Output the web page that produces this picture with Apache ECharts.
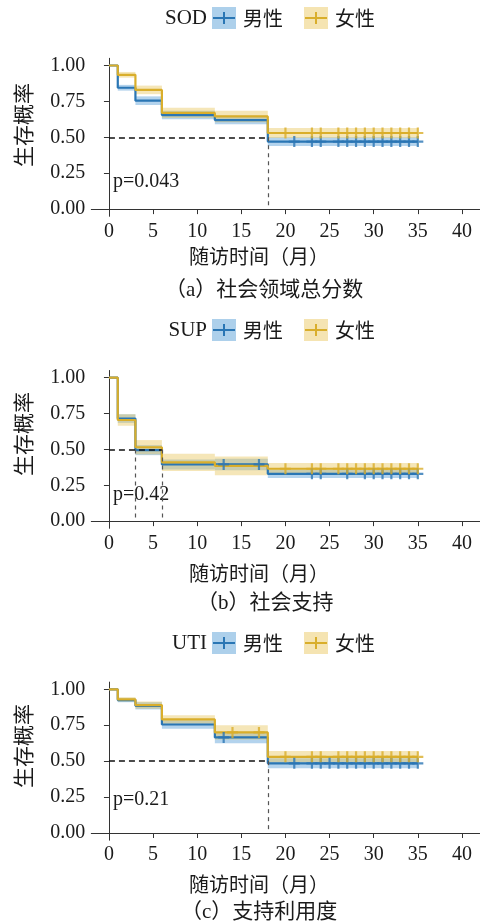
<!DOCTYPE html>
<html><head><meta charset="utf-8">
<script src="https://cdn.jsdelivr.net/npm/echarts@6/dist/echarts.min.js"></script>
<style>html,body{margin:0;padding:0;background:#fff;}#c{width:481px;height:922px;}</style>
</head><body><div id="c"></div>
<script>
// ---- shared ticks ----
const xTicks = [0, 5, 10, 15, 20, 25, 30, 35, 40];
const yTicks = [0, 0.25, 0.5, 0.75, 1];
const groupNames = ['男性', '女性'];

// ---- panel (a) SOD ----
const aTimes = [0, 1, 3, 6, 12, 18, 35];
const aMale = [1, 0.845, 0.755, 0.655, 0.62, 0.47];
const aMaleLo = [1, 0.825, 0.725, 0.625, 0.59, 0.44];
const aMaleHi = [1, 0.865, 0.785, 0.685, 0.65, 0.50];
const aFemale = [1, 0.935, 0.83, 0.67, 0.645, 0.53];
const aFemaleLo = [1, 0.915, 0.80, 0.635, 0.605, 0.495];
const aFemaleHi = [1, 0.955, 0.86, 0.705, 0.685, 0.565];
const aMaleCensor = [21, 23, 24, 26, 27, 28, 29, 30, 31, 32, 33, 34, 35];
const aFemaleCensor = [20, 23, 24, 26, 27, 28, 29, 30, 31, 32, 33, 34, 35];
const aMedians = [18];
const aP = 'p=0.043';
const aCaption = '（a）社会领域总分数';
const aName = 'SOD';

// ---- panel (b) SUP ----
const bTimes = [0, 1, 3, 6, 12, 18, 35];
const bMale = [1, 0.715, 0.495, 0.395, 0.395, 0.33];
const bMaleLo = [1, 0.685, 0.46, 0.36, 0.355, 0.30];
const bMaleHi = [1, 0.745, 0.53, 0.43, 0.435, 0.36];
const bFemale = [1, 0.705, 0.515, 0.41, 0.385, 0.365];
const bFemaleLo = [1, 0.665, 0.465, 0.35, 0.32, 0.325];
const bFemaleHi = [1, 0.745, 0.565, 0.47, 0.45, 0.405];
const bMaleCensor = [13, 17, 23, 24, 27, 29, 30, 31, 32, 33, 34, 35];
const bFemaleCensor = [20, 23, 24, 26, 27, 28, 29, 30, 31, 32, 33, 34, 35];
const bMedians = [3, 6];
const bP = 'p=0.42';
const bCaption = '（b）社会支持';
const bName = 'SUP';

// ---- panel (c) UTI ----
const cTimes = [0, 1, 3, 6, 12, 18, 35];
const cMale = [1, 0.925, 0.885, 0.755, 0.665, 0.485];
const cMaleLo = [1, 0.91, 0.86, 0.725, 0.625, 0.45];
const cMaleHi = [1, 0.94, 0.91, 0.785, 0.705, 0.52];
const cFemale = [1, 0.93, 0.89, 0.79, 0.70, 0.53];
const cFemaleLo = [1, 0.915, 0.865, 0.76, 0.65, 0.49];
const cFemaleHi = [1, 0.945, 0.915, 0.82, 0.75, 0.57];
const cMaleCensor = [13, 21, 23, 24, 25, 26, 27, 28, 29, 30, 31, 32, 33, 34, 35];
const cFemaleCensor = [14, 17, 20, 23, 24, 26, 27, 28, 29, 30, 31, 32, 33, 34, 35];
const cMedians = [18];
const cP = 'p=0.21';
const cCaption = '（c）支持利用度';
const cName = 'UTI';

const xTitle = '随访时间（月）';
const yTitle = '生存概率';

// ---- style ----
const BLUE = '#2a76b4', YEL = '#d9ae2b';
const BLUE_BAND = '#4a97d3', YEL_BAND = '#e8c455';
const SERIF = '"Liberation Serif","Noto Sans CJK SC",serif';
const CJK = '"Noto Sans CJK SC","Liberation Serif",sans-serif';
const TXT = '#1a1a1a';

const layout = [
  {top: 58.3, bottom: 216.3, legendY: 18, xTitleY: 256, capY: 290, yTitleY: 125, pY: 182, capX: 165},
  {top: 370.5, bottom: 528.3, legendY: 330, xTitleY: 573, capY: 603, yTitleY: 434, pY: 495, capX: 197},
  {top: 682.1, bottom: 840.2, legendY: 643, xTitleY: 884, capY: 912, yTitleY: 746, pY: 800, capX: 181}
];

const panels = [
  {times: aTimes, male: aMale, maleLo: aMaleLo, maleHi: aMaleHi, female: aFemale, femaleLo: aFemaleLo, femaleHi: aFemaleHi, maleCensor: aMaleCensor, femaleCensor: aFemaleCensor, medians: aMedians, p: aP, caption: aCaption, name: aName},
  {times: bTimes, male: bMale, maleLo: bMaleLo, maleHi: bMaleHi, female: bFemale, femaleLo: bFemaleLo, femaleHi: bFemaleHi, maleCensor: bMaleCensor, femaleCensor: bFemaleCensor, medians: bMedians, p: bP, caption: bCaption, name: bName},
  {times: cTimes, male: cMale, maleLo: cMaleLo, maleHi: cMaleHi, female: cFemale, femaleLo: cFemaleLo, femaleHi: cFemaleHi, maleCensor: cMaleCensor, femaleCensor: cFemaleCensor, medians: cMedians, p: cP, caption: cCaption, name: cName}
];

function stepPoints(times, surv) {
  const pts = surv.map((s, i) => [times[i], s]);
  pts.push([times[times.length - 1], surv[surv.length - 1]]);
  return pts;
}
function bandData(times, lo, hi) {
  const out = [];
  for (let i = 1; i < lo.length; i++) out.push([times[i], times[i + 1], lo[i], hi[i]]);
  return out;
}
function survAt(times, surv, t) {
  let v = surv[0];
  for (let i = 0; i < surv.length; i++) if (times[i] <= t) v = surv[i];
  return v;
}
const CROSS = 'path://M4,0L6,0L6,4L10,4L10,6L6,6L6,10L4,10L4,6L0,6L0,4L4,4Z';

const grids = [], xAxes = [], yAxes = [], series = [], graphics = [];
panels.forEach((P, i) => {
  const L = layout[i];
  grids.push({left: 91.3, width: 388.3, top: L.top, height: L.bottom - L.top});
  xAxes.push({
    type: 'value', gridIndex: i, min: -2, max: 42,
    axisLine: {show: true, lineStyle: {color: '#333', width: 1}},
    axisTick: {show: true, length: 5, customValues: xTicks, lineStyle: {color: '#333'}},
    axisLabel: {customValues: xTicks, fontFamily: SERIF, fontSize: 20, color: TXT, margin: 5},
    splitLine: {show: false}
  });
  yAxes.push({
    type: 'value', gridIndex: i, min: -0.05, max: 1.05,
    axisLine: {show: true, lineStyle: {color: '#333', width: 1}},
    axisTick: {show: true, length: 5, customValues: yTicks, lineStyle: {color: '#333'}},
    axisLabel: {customValues: yTicks, fontFamily: SERIF, fontSize: 20, color: TXT, margin: 6,
      formatter: v => v.toFixed(2)},
    splitLine: {show: false}
  });
  const band = (lo, hi, color, op) => ({
    type: 'custom', xAxisIndex: i, yAxisIndex: i, silent: true, z: 1,
    data: bandData(P.times, lo, hi), encode: {x: [0, 1], y: [2, 3]},
    renderItem: (params, api) => {
      const p1 = api.coord([api.value(0), api.value(3)]);
      const p2 = api.coord([api.value(1), api.value(2)]);
      return {type: 'rect', shape: {x: p1[0], y: p1[1], width: p2[0] - p1[0], height: p2[1] - p1[1]},
        style: {fill: color, opacity: op}};
    }
  });
  const medLines = [];
  P.medians.forEach(m => medLines.push([{coord: [m, 0.5], lineStyle: {color: '#555', width: 1.2, type: [4, 4]}}, {coord: [m, 0]}]));
  const maxMed = Math.max(...P.medians);
  medLines.push([{coord: [0, 0.5], lineStyle: {color: '#111', width: 1.5, type: [6, 4]}}, {coord: [maxMed, 0.5]}]);

  series.push(band(P.maleLo, P.maleHi, BLUE_BAND, 0.42));
  series.push({
    type: 'line', name: groupNames[0], xAxisIndex: i, yAxisIndex: i, step: 'end', symbol: 'none',
    data: stepPoints(P.times, P.male), lineStyle: {color: BLUE, width: 2.2}, z: 2, silent: true,
    markLine: {silent: true, symbol: ['none', 'none'], label: {show: false}, animation: false, data: medLines}
  });
  series.push(band(P.femaleLo, P.femaleHi, YEL_BAND, 0.42));
  series.push({
    type: 'line', name: groupNames[1], xAxisIndex: i, yAxisIndex: i, step: 'end', symbol: 'none',
    data: stepPoints(P.times, P.female), lineStyle: {color: YEL, width: 2.2}, z: 3, silent: true
  });
  series.push({
    type: 'scatter', xAxisIndex: i, yAxisIndex: i, symbol: CROSS, symbolSize: [11, 11], z: 4, silent: true,
    itemStyle: {color: BLUE}, data: P.maleCensor.map(t => [t, survAt(P.times, P.male, t)])
  });
  series.push({
    type: 'scatter', xAxisIndex: i, yAxisIndex: i, symbol: CROSS, symbolSize: [11, 11], z: 5, silent: true,
    itemStyle: {color: YEL}, data: P.femaleCensor.map(t => [t, survAt(P.times, P.female, t)])
  });

  // texts
  const ly = L.legendY;
  graphics.push({type: 'text', x: 207, y: ly, style: {text: P.name, font: '21px ' + SERIF, fill: TXT, textAlign: 'right', textVerticalAlign: 'middle'}});
  const box = (x, fill, lc, label) => {
    graphics.push({type: 'rect', shape: {x: x, y: ly - 11, width: 24, height: 22}, style: {fill: fill, opacity: 0.45}});
    graphics.push({type: 'line', shape: {x1: x + 1, y1: ly, x2: x + 23, y2: ly}, style: {stroke: lc, lineWidth: 2}});
    graphics.push({type: 'line', shape: {x1: x + 12, y1: ly - 6, x2: x + 12, y2: ly + 6}, style: {stroke: lc, lineWidth: 2}});
    graphics.push({type: 'text', x: x + 31, y: ly, style: {text: label, font: '20px ' + CJK, fill: TXT, textVerticalAlign: 'middle'}});
  };
  box(212, BLUE_BAND, BLUE, groupNames[0]);
  box(304, YEL_BAND, YEL, groupNames[1]);
  graphics.push({type: 'text', x: 23, y: L.yTitleY, rotation: Math.PI / 2, style: {text: yTitle, font: '21px ' + CJK, fill: TXT, textAlign: 'center', textVerticalAlign: 'middle'}});
  graphics.push({type: 'text', x: 189, y: L.xTitleY, style: {text: xTitle, font: '20px ' + CJK, fill: TXT, textVerticalAlign: 'middle'}});
  graphics.push({type: 'text', x: L.capX, y: L.capY, style: {text: P.caption, font: '21px ' + SERIF, fill: TXT, textVerticalAlign: 'middle'}});
  graphics.push({type: 'text', x: 113, y: L.pY, style: {text: P.p, font: '20px ' + SERIF, fill: TXT, textVerticalAlign: 'middle'}});
});

const chart = echarts.init(document.getElementById('c'));
chart.setOption({
  backgroundColor: '#fff', animation: false,
  grid: grids, xAxis: xAxes, yAxis: yAxes, series: series, graphic: graphics
});
</script>
</body></html>
